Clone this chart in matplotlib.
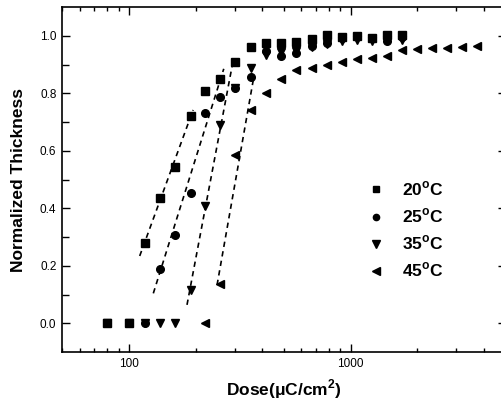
import matplotlib
matplotlib.use("Agg")
import matplotlib.pyplot as plt
from matplotlib.lines import Line2D
from matplotlib.ticker import LogLocator, NullFormatter, FixedLocator

plt.rcParams['font.family'] = ['Liberation Sans', 'DejaVu Sans']
plt.rcParams['mathtext.fontset'] = 'custom'
plt.rcParams['mathtext.rm'] = 'Liberation Sans'
plt.rcParams['mathtext.bf'] = 'Liberation Sans:bold'

# ---- data ----
dose_20 = [80, 100, 118, 138, 161, 190, 220, 259, 301, 354, 415, 485, 570, 667, 780, 911, 1065, 1250, 1462, 1710]
thick_20 = [0, 0, 0.278, 0.435, 0.545, 0.722, 0.809, 0.850, 0.908, 0.962, 0.976, 0.975, 0.979, 0.990, 1.001, 0.995, 0.998, 0.992, 1.001, 1.003]

dose_25 = [80, 100, 118, 138, 161, 190, 220, 259, 301, 354, 415, 485, 570, 667, 780, 911, 1065, 1250, 1462, 1710]
thick_25 = [0, 0, 0, 0.188, 0.307, 0.454, 0.731, 0.787, 0.820, 0.856, 0.948, 0.930, 0.939, 0.966, 0.974, 0.993, 1.000, 0.991, 0.983, 0.997]

dose_35 = [80, 100, 118, 138, 161, 190, 220, 259, 301, 354, 415, 485, 570, 667, 780, 911, 1065, 1250, 1462, 1710]
thick_35 = [0, 0, 0, 0, 0, 0.116, 0.408, 0.690, 0.817, 0.887, 0.934, 0.945, 0.948, 0.960, 0.970, 0.982, 0.985, 0.983, 0.985, 0.985]

dose_45 = [220, 259, 301, 354, 415, 485, 570, 667, 780, 911, 1065, 1250, 1462, 1710, 1987, 2317, 2710, 3170, 3724]
thick_45 = [0, 0.137, 0.585, 0.742, 0.800, 0.849, 0.881, 0.887, 0.898, 0.910, 0.918, 0.924, 0.930, 0.951, 0.953, 0.957, 0.959, 0.960, 0.963]

# dashed fit lines (endpoints)
fit_20_x = [112, 195]
fit_20_y = [0.234, 0.742]
fit_25_x = [129, 268]
fit_25_y = [0.104, 0.885]
fit_35_x = [183, 294]
fit_35_y = [0.064, 0.905]
fit_45_x = [250, 364]
fit_45_y = [0.133, 0.846]

labels = ['20$^{\\mathbf{o}}$C', '25$^{\\mathbf{o}}$C', '35$^{\\mathbf{o}}$C', '45$^{\\mathbf{o}}$C']

fig = plt.figure(figsize=(5.01, 4.08), dpi=100)
ax = fig.add_axes([62/501, 56/408, 443.7/501, 345/408])

for fx, fy in [(fit_20_x, fit_20_y), (fit_25_x, fit_25_y), (fit_35_x, fit_35_y), (fit_45_x, fit_45_y)]:
    ax.plot(fx, fy, color='black', lw=1.2, ls=(0, (3.2, 2.6)), zorder=2)

ms = 5.2
ax.plot(dose_20, thick_20, ls='none', marker='s', ms=ms, color='black', zorder=3)
ax.plot(dose_25, thick_25, ls='none', marker='o', ms=ms+0.3, color='black', zorder=3)
ax.plot(dose_35, thick_35, ls='none', marker='v', ms=ms+1.0, color='black', zorder=3)
ax.plot(dose_45, thick_45, ls='none', marker='<', ms=ms+1.0, color='black', zorder=3)

ax.set_xscale('log')
ax.set_xlim(50, 5000)
ax.set_ylim(-0.1, 1.1)

ax.xaxis.set_major_locator(FixedLocator([100, 1000]))
ax.xaxis.set_minor_locator(LogLocator(base=10, subs=range(2, 10)))
ax.xaxis.set_minor_formatter(NullFormatter())
ax.set_xticklabels(['100', '1000'])
ax.yaxis.set_major_locator(FixedLocator([0.0, 0.2, 0.4, 0.6, 0.8, 1.0]))
ax.yaxis.set_minor_locator(FixedLocator([0.1, 0.3, 0.5, 0.7, 0.9]))
ax.set_yticklabels(['0.0', '0.2', '0.4', '0.6', '0.8', '1.0'])

ax.tick_params(which='both', direction='in', top=True, right=True, width=1.0,
               labelsize=8.5, pad=4)
ax.tick_params(which='major', length=5.5)
ax.tick_params(which='minor', length=3)
ax.tick_params(axis='y', which='minor', right=False, length=5)
for s in ax.spines.values():
    s.set_linewidth(1.2)

ax.set_xlabel('Dose(μC/cm$^{\\mathbf{2}}$)', fontsize=12.5, fontweight='bold', labelpad=6)
ax.set_ylabel('Normalized Thickness', fontsize=12.5, fontweight='bold', labelpad=10)

handles = [Line2D([], [], ls='none', marker=m, ms=s, color='black')
           for m, s in [('s', 4.2), ('o', 4.5), ('v', 5.2), ('<', 5.2)]]
leg = ax.legend(handles, labels, loc='upper left', bbox_to_anchor=(0.687, 0.499),
                frameon=False, handlelength=1.0, handletextpad=1.0,
                labelspacing=0.48, borderpad=0, borderaxespad=0,
                prop={'family': 'Liberation Sans', 'weight': 'bold', 'size': 12.5})

fig.savefig('out.png', dpi=100)
